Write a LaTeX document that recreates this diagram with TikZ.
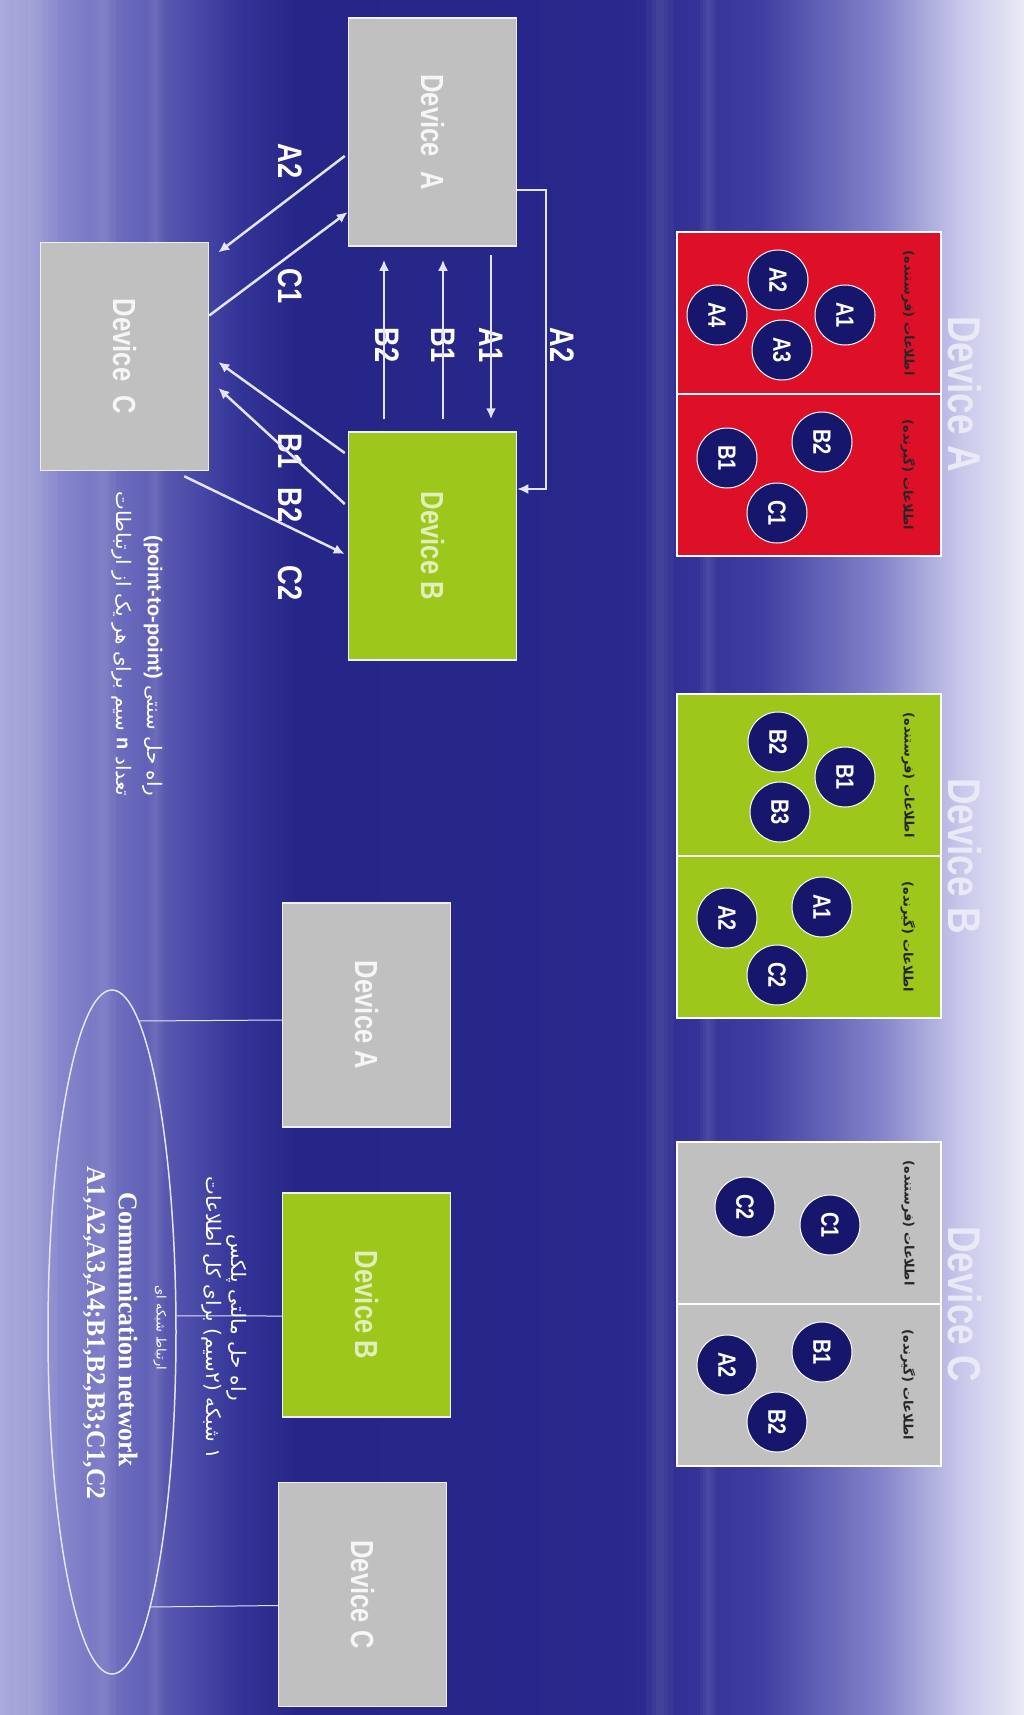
\documentclass[tikz,border=0pt]{standalone}
\usepackage{fontspec}
\setmainfont{Liberation Sans}
\newfontfamily\narrow{Liberation Sans}[FakeStretch=0.8]
\newfontfamily\narrowserif{Liberation Serif}[FakeStretch=0.95]
\newfontfamily\farsi{DejaVu Sans}[Script=Arabic]
\TeXXeTstate=1
\usetikzlibrary{arrows.meta,calc,shapes.geometric}

\definecolor{sky0}{RGB}{172,172,222}
\definecolor{sky1}{RGB}{135,135,205}
\definecolor{sky2}{RGB}{95,95,182}
\definecolor{sky3}{RGB}{52,52,152}
\definecolor{sky4}{RGB}{38,38,136}
\definecolor{sky5}{RGB}{40,40,140}
\definecolor{sky6}{RGB}{62,62,162}
\definecolor{sky7}{RGB}{132,132,202}
\definecolor{sky8}{RGB}{200,200,235}
\definecolor{sky9}{RGB}{234,234,247}
\definecolor{navy}{RGB}{22,22,108}
\definecolor{devred}{RGB}{222,16,40}
\definecolor{devgreen}{RGB}{157,200,27}
\definecolor{devgray}{RGB}{192,192,192}
\definecolor{wire}{RGB}{228,228,244}

\pgfdeclarehorizontalshading{bgsky}{100bp}{color(0bp)=(sky0); color(25bp)=(sky0);
  color(27.9bp)=(sky1); color(32.3bp)=(sky2); color(36.7bp)=(sky3); color(39.6bp)=(sky4);
  color(55.3bp)=(sky5); color(62.1bp)=(sky6); color(68bp)=(sky7); color(71.9bp)=(sky8);
  color(75bp)=(sky9); color(100bp)=(sky9)}

\begin{document}
\begin{tikzpicture}
[x=1pt,y=1pt,
 dev/.style={rectangle,draw=white!75!devgray,line width=1.5pt,minimum width=228pt,minimum height=168pt,inner sep=0pt,font=\narrow\bfseries\fontsize{32}{36}\selectfont},
 pan/.style={rectangle,draw=white,line width=2pt,minimum width=324pt,minimum height=264pt},
 bit/.style={circle,fill=navy,draw=white,line width=1pt,minimum size=60pt,inner sep=0pt,text=white,font=\narrow\bfseries\fontsize{25}{28}\selectfont},
 ttl/.style={text=sky9,font=\narrow\bfseries\fontsize{46}{50}\selectfont},
 hdr/.style={text=black!85,font=\farsi\bfseries\fontsize{13}{15}\selectfont},
 lab/.style={inner sep=2pt,text=white,font=\narrow\bfseries\fontsize{34}{36}\selectfont},
 wire/.style={draw=wire,line width=2.5pt,-{Latex[length=11pt,width=10pt]}},
 link/.style={draw=wire,line width=1pt},
 note/.style={text=white,font=\farsi\fontsize{20}{31}\selectfont}]
\shade[shading=bgsky] (0,0) rectangle (1024,-1715);
\useasboundingbox (0,0) rectangle (1024,-1715);
\begin{scope}[rotate=-90,transform shape]
% soft streaks of the sky
\foreach \v/\h in {35/22, 104/12, 156/8, 660/14, 708/8}
  \foreach \k in {1,0.6,0.3}
    \fill[white,opacity=0.035] (0,\v-\k*\h) rectangle (1715,\v+\k*\h);
% info held by each device
\node[pan,fill=devred] (pA) at (394,809) {};
\node[pan,fill=devgreen] (pB) at (856,809) {};
\node[pan,fill=devgray] (pC) at (1304,809) {};
\draw[white,line width=2pt] (pA.north) -- (pA.south);
\draw[white,line width=2pt] (pB.north) -- (pB.south);
\draw[white,line width=2pt] (pC.north) -- (pC.south);
\node[ttl] (tA) at (394,965) {Device A};
\node[ttl] (tB) at (856,965) {Device B};
\node[ttl] (tC) at (1304,965) {Device C};
\node[hdr] (sA) at (313,908) {\beginR اطلاعات (فرستنده)\endR};
\node[hdr] (rA) at (475,908) {\beginR اطلاعات (گیرنده)\endR};
\node[hdr] (sB) at (775,908) {\beginR اطلاعات (فرستنده)\endR};
\node[hdr] (rB) at (937,908) {\beginR اطلاعات (گیرنده)\endR};
\node[hdr] (sC) at (1223,908) {\beginR اطلاعات (فرستنده)\endR};
\node[hdr] (rC) at (1385,908) {\beginR اطلاعات (گیرنده)\endR};
\node[bit] (aA1) at (315,845) {A1};
\node[bit] (aA2) at (280,778) {A2};
\node[bit] (aA3) at (350,782) {A3};
\node[bit] (aA4) at (315,717) {A4};
\node[bit] (aB2) at (442,822) {B2};
\node[bit] (aB1) at (458,727) {B1};
\node[bit] (aC1) at (513,777) {C1};
\node[bit] (bB2) at (742,778) {B2};
\node[bit] (bB1) at (777,845) {B1};
\node[bit] (bB3) at (812,780) {B3};
\node[bit] (bA1) at (907,822) {A1};
\node[bit] (bA2) at (918,727) {A2};
\node[bit] (bC2) at (975,777) {C2};
\node[bit] (cC1) at (1225,830) {C1};
\node[bit] (cC2) at (1207,745) {C2};
\node[bit] (cB1) at (1352,822) {B1};
\node[bit] (cA2) at (1365,727) {A2};
\node[bit] (cB2) at (1422,777) {B2};
% point-to-point wiring
\node[dev,fill=devgray,text=white!85!devgray] (devA) at (132,432.5) {Device\ \ A};
\node[dev,fill=devgreen,text=white!70!devgreen] (devB) at (546,432.5) {Device B};
\node[dev,fill=devgray,text=white!85!devgray] (devC) at (356.5,124.5) {Device\ \ C};
\node[lab] (lA2) at (161,290) {A2};
\node[lab] (lC1) at (286,290) {C1};
\node[lab] (lB1) at (451,290) {B1};
\node[lab] (lB2) at (505,290) {B2};
\node[lab] (lC2) at (583,290) {C2};
\node[lab] (mB2) at (345,387) {B2};
\node[lab] (mB1) at (345,443) {B1};
\node[lab] (mA1) at (345,491) {A1};
\node[lab] (mA2) at (345,562) {A2};
\draw[wire] ($(devA.south)+(24,-3)$) -- ($(devC.north)+(-104,9)$);
\draw[wire] ($(devC.north)+(-41,0)$) -- ($(devA.south)+(80,0)$);
\draw[wire] ($(devB.west)+(-12,-48.5)$) -- ($(devA.east)+(13,-48.5)$);
\draw[wire] ($(devB.west)+(-12,10.5)$) -- ($(devA.east)+(13,10.5)$);
\draw[wire] ($(devA.east)+(8,58.5)$) -- ($(devB.west)+(-12,58.5)$);
\draw[wire,line width=2pt] ($(devA.north)+(58,0)$) -- ++(0,28.5) -- ($(devB.north)+(-57,28.5)$) -- ($(devB.north)+(-57,0)$);
\draw[wire] ($(devB.south)+(-93,-3)$) -- ($(devC.north)+(5.5,9)$);
\draw[wire] ($(devB.south)+(-42,-3)$) -- ($(devC.north)+(31.5,9)$);
\draw[wire] ($(devC.north east)+(5,-25)$) -- ($(devB.south)+(8,-3)$);
\node[note,anchor=east,align=right] (ptp) at (800,137.5)
  {\beginR راه حل سنتی \beginL{\rmfamily\bfseries (point-to-point)}\endL\endR\\
   \beginR تعداد \beginL{\rmfamily\bfseries n}\endL{} سیم برای هر یک از ارتباطات\endR};
% multiplexed network
\node[dev,fill=devgray,text=white!85!devgray,minimum width=224pt] (dA2) at (1015,366.5) {Device A};
\node[dev,fill=devgreen,text=white!70!devgreen,minimum width=224pt] (dB2) at (1305,366.5) {Device B};
\node[dev,fill=devgray,text=white!85!devgray,minimum width=224pt] (dC2) at (1594.5,362.5) {Device C};
\node[ellipse,draw=wire,line width=1.5pt,minimum width=684pt,minimum height=128pt] (net) at (1332,112) {};
\draw[link] ($(dA2.south)+(5,0)$) -- (net.175);
\draw[link] ($(dB2.south)+(11,0)$) -- (net.104);
\draw[link] ($(dC2.south)+(11,0)$) -- (net.8);
\node[note,align=center,font=\farsi\fontsize{20}{25}\selectfont] (mux) at (1318,224.5)
  {\beginR راه حل مالتی پلکس\endR\\ \beginR ۱ شبکه (۲سیم) برای کل اطلاعات\endR};
\node[text=white,font=\farsi\fontsize{13}{15}\selectfont] (netfa) at (1328,160) {\beginR ارتباط شبکه ای\endR};
\node[text=white,font=\narrowserif\bfseries\fontsize{27}{30}\selectfont] (netname) at (1330,128) {Communication network};
\node[text=white,font=\narrowserif\bfseries\fontsize{27}{30}\selectfont] (netlist) at (1333,94) {A1,A2,A3,A4;B1,B2,B3;C1,C2};
\end{scope}
\end{tikzpicture}
\end{document}
